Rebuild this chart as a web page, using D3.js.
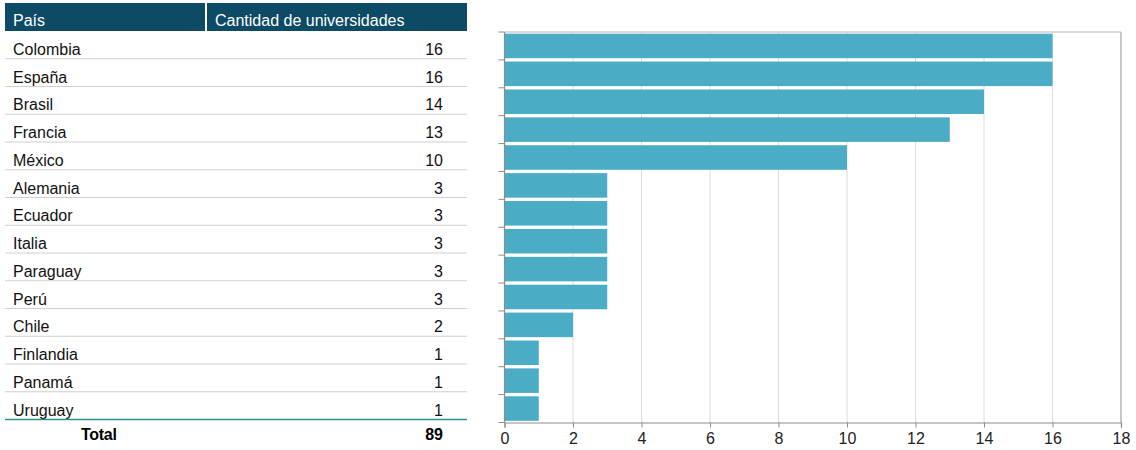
<!DOCTYPE html>
<html><head><meta charset="utf-8">
<script src="https://cdn.jsdelivr.net/npm/d3@7"></script>
<style>body{margin:0;background:#fff}svg{display:block}</style>
</head><body>
<svg id="c" width="1136" height="450"></svg>
<script>
const countries = ["Colombia","España","Brasil","Francia","México","Alemania","Ecuador","Italia","Paraguay","Perú","Chile","Finlandia","Panamá","Uruguay"];
const counts = [16,16,14,13,10,3,3,3,3,3,2,1,1,1];
const headers = ["País","Cantidad de universidades"];
const totalLabel = "Total";
const xTicks = [0,2,4,6,8,10,12,14,16,18];

const svg = d3.select("#c");
const font = "'Liberation Sans', Arial, sans-serif";
const data = countries.map((c,i)=>({c, v:counts[i]}));

// ---------- chart ----------
const L = 504.5, R = 1121, T = 32, B = 422.5;
const x = d3.scaleLinear().domain([0,18]).range([L,R]);
const y = d3.scaleBand().domain(countries).range([T,B]).paddingInner(0.12).paddingOuter(0.06);
const yb = d3.scaleBand().domain(countries).range([T,B]);

// grid
svg.append("g").selectAll("line").data(xTicks.slice(1)).join("line")
  .attr("x1",d=>x(d)).attr("x2",d=>x(d)).attr("y1",T).attr("y2",B)
  .attr("stroke",d=>d===18?"#c8c8c8":"#dcdcdc").attr("stroke-width",d=>d===18?2:1);
svg.append("line").attr("x1",L).attr("x2",R).attr("y1",T).attr("y2",T)
  .attr("stroke","#d0d0d0").attr("stroke-width",1.5);

// bars
svg.append("g").selectAll("rect").data(data).join("rect")
  .attr("x",x(0)).attr("y",d=>y(d.c)).attr("width",d=>x(d.v)-x(0)).attr("height",y.bandwidth())
  .attr("fill","#4bacc6");

// left axis with ticks at band boundaries
const bounds = countries.map(c=>yb(c)).concat([B]);
svg.append("line").attr("x1",L).attr("x2",L).attr("y1",T).attr("y2",B).attr("stroke","#8c8c8c").attr("stroke-width",1.2);
svg.append("g").selectAll("line").data(bounds).join("line")
  .attr("x1",L-6).attr("x2",L).attr("y1",d=>d).attr("y2",d=>d).attr("stroke","#8c8c8c");

// bottom axis
const xa = svg.append("g").attr("transform",`translate(0,${B})`)
  .call(d3.axisBottom(x).tickValues(xTicks).tickSize(5).tickPadding(5));
xa.select(".domain").attr("stroke","#8c8c8c").attr("stroke-width",1.2);
xa.selectAll(".tick line").attr("stroke","#8c8c8c");
xa.selectAll("text").attr("font-family",font).attr("font-size",16).attr("fill","#222");

// ---------- table ----------
const tL = 5, tR = 467, colDiv = 206, valX = 443, fs = 16;
svg.append("rect").attr("x",tL).attr("y",3).attr("width",tR-tL).attr("height",28).attr("fill","#0c4a65");
svg.append("rect").attr("x",colDiv-1).attr("y",3).attr("width",2).attr("height",28).attr("fill","#fff");
svg.append("text").attr("x",13).attr("y",26).text(headers[0])
  .attr("font-family",font).attr("font-size",fs).attr("fill","#fff");
svg.append("text").attr("x",215).attr("y",26).text(headers[1])
  .attr("font-family",font).attr("font-size",fs).attr("fill","#fff");

const rowH = 27.75, rowTop = 31;
const ry = d3.scaleBand().domain(countries).range([rowTop, rowTop + rowH*countries.length]);
const rows = svg.append("g").selectAll("g").data(data).join("g")
  .attr("transform",d=>`translate(0,${ry(d.c)})`);
rows.append("text").attr("x",13).attr("y",rowH-4).text(d=>d.c)
  .attr("font-family",font).attr("font-size",fs).attr("fill","#111");
rows.append("text").attr("x",valX).attr("y",rowH-4).attr("text-anchor","end").text(d=>d.v)
  .attr("font-family",font).attr("font-size",fs).attr("fill","#111");
rows.append("line").attr("x1",tL).attr("x2",tR).attr("y1",rowH).attr("y2",rowH)
  .attr("stroke",(d,i)=>i===countries.length-1?"#2f8f8f":"#cfcfcf")
  .attr("stroke-width",(d,i)=>i===countries.length-1?1.5:1.2);

svg.append("text").attr("x",81).attr("y",440).text(totalLabel)
  .attr("font-family",font).attr("font-size",fs).attr("font-weight","bold").attr("letter-spacing",-0.3).attr("fill","#000");
svg.append("text").attr("x",valX).attr("y",440).attr("text-anchor","end").text(d3.sum(counts))
  .attr("font-family",font).attr("font-size",fs).attr("font-weight","bold").attr("fill","#000");
</script>
</body></html>
